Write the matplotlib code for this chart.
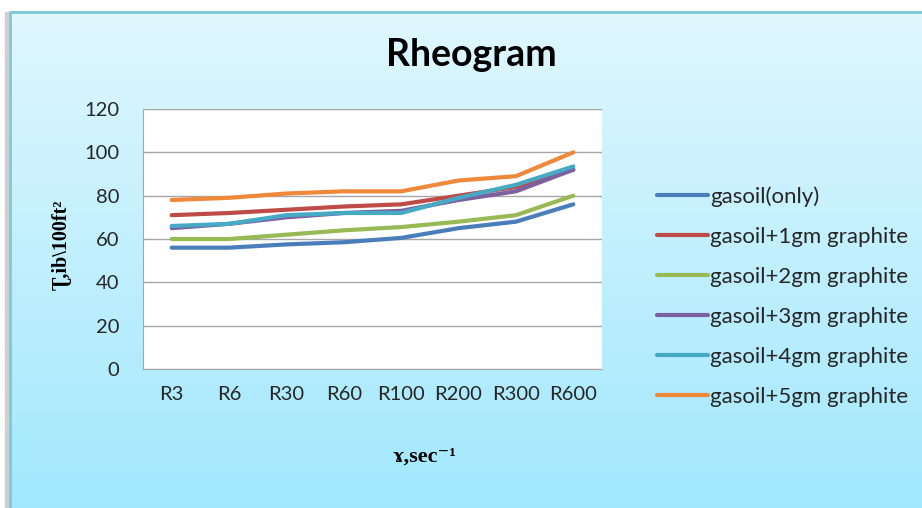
"""
Rheogram of gasoil with graphite additions
"""

import numpy as np
import matplotlib
matplotlib.use('Agg')
import matplotlib.pyplot as plt
from matplotlib.patches import Rectangle

# readings
categories = ['R3', 'R6', 'R30', 'R60', 'R100', 'R200', 'R300', 'R600']
gasoil_only = [56, 56, 57.5, 58.5, 60.5, 65, 68, 76]
gasoil_1gm = [71, 72, 73.5, 75, 76, 80, 84, 92]
gasoil_2gm = [60, 60, 62, 64, 65.5, 68, 71, 80]
gasoil_3gm = [65, 67, 70, 72, 73, 78, 82, 92]
gasoil_4gm = [66, 67, 71, 72, 72, 79, 85, 93.5]
gasoil_5gm = [78, 79, 81, 82, 82, 87, 89, 100]

series = [gasoil_only, gasoil_1gm, gasoil_2gm, gasoil_3gm, gasoil_4gm, gasoil_5gm]
names = ['gasoil(only)', 'gasoil+1gm graphite', 'gasoil+2gm graphite',
         'gasoil+3gm graphite', 'gasoil+4gm graphite', 'gasoil+5gm graphite']
colors = ['#4a7ebb', '#be4b48', '#98b954', '#7d60a0', '#46aac5', '#f0883a']

W, H = 922, 508
fig = plt.figure(figsize=(W/100, H/100), dpi=100)

# background with gradient + frame
bg = fig.add_axes([0, 0, 1, 1], zorder=-5)
bg.set_xlim(0, W)
bg.set_ylim(H, 0)
bg.axis('off')
grad = np.linspace(0, 1, 256).reshape(-1, 1)
top = np.array([0.878, 0.969, 0.996])
bot = np.array([0.635, 0.910, 0.992])
img = top + (bot - top)*grad[..., None]
bg.imshow(img, extent=(9, W, H, 11), aspect='auto', zorder=0)
bg.add_patch(Rectangle((0, 0), W, 10, color='white', zorder=1))
bg.add_patch(Rectangle((0, 0), 8, H, color='white', zorder=1))
bg.add_patch(Rectangle((5, 12), 3, H, color='#d0d0d0', zorder=1))
bg.plot([9.5, 9.5, W], [H, 11.5, 11.5], color='#7cc8dc', lw=2, zorder=2)

ax = fig.add_axes([143/W, 1 - 369/H, (602-143)/W, (369-109)/H])
ax.set_facecolor('white')
x = np.arange(len(categories))
for vals, nm, c in zip(series, names, colors):
    ax.plot(x, vals, color=c, lw=3, label=nm, solid_capstyle='round')

ax.set_xlim(-0.5, len(categories) - 0.5)
ax.set_ylim(0, 120)
ax.set_yticks(range(0, 121, 20))
ax.set_xticks(x)
ax.set_xticklabels(categories)
ax.yaxis.grid(True, color='#a6a6a6', lw=1)
ax.set_axisbelow(True)
ax.tick_params(length=0, labelsize=14.5, colors='#262626')
for lab in ax.get_xticklabels() + ax.get_yticklabels():
    lab.set_family('Lato')
ax.tick_params(axis='y', pad=17)
ax.tick_params(axis='x', pad=12)
for s in ['top', 'right']:
    ax.spines[s].set_visible(False)
for s in ['left', 'bottom']:
    ax.spines[s].set_color('#a6a6a6')

fig.text(471/W, 1 - 55/H, 'Rheogram', ha='center', va='center',
         fontsize=27, fontweight='bold', family='Lato')
fig.text(62/W, 1 - 245/H, 'Ʈ,ib\\100ft²', rotation=90, ha='center', va='center',
         fontsize=14.5, fontweight='bold', family=['Liberation Serif', 'DejaVu Serif'])
fig.text(425/W, 1 - 457/H, 'ɤ,sec⁻¹', ha='center', va='center',
         fontsize=16, fontweight='bold', family=['Liberation Serif', 'DejaVu Serif'])

leg = fig.legend(loc='upper left', bbox_to_anchor=(637/W, 1 - 166/H), frameon=False,
                 handlelength=2.3, handletextpad=0.08, labelspacing=0.9,
                 prop={'family': 'Lato', 'size': 16})
for t in leg.get_texts():
    t.set_color('#262626')

fig.savefig('out.png', dpi=100)
